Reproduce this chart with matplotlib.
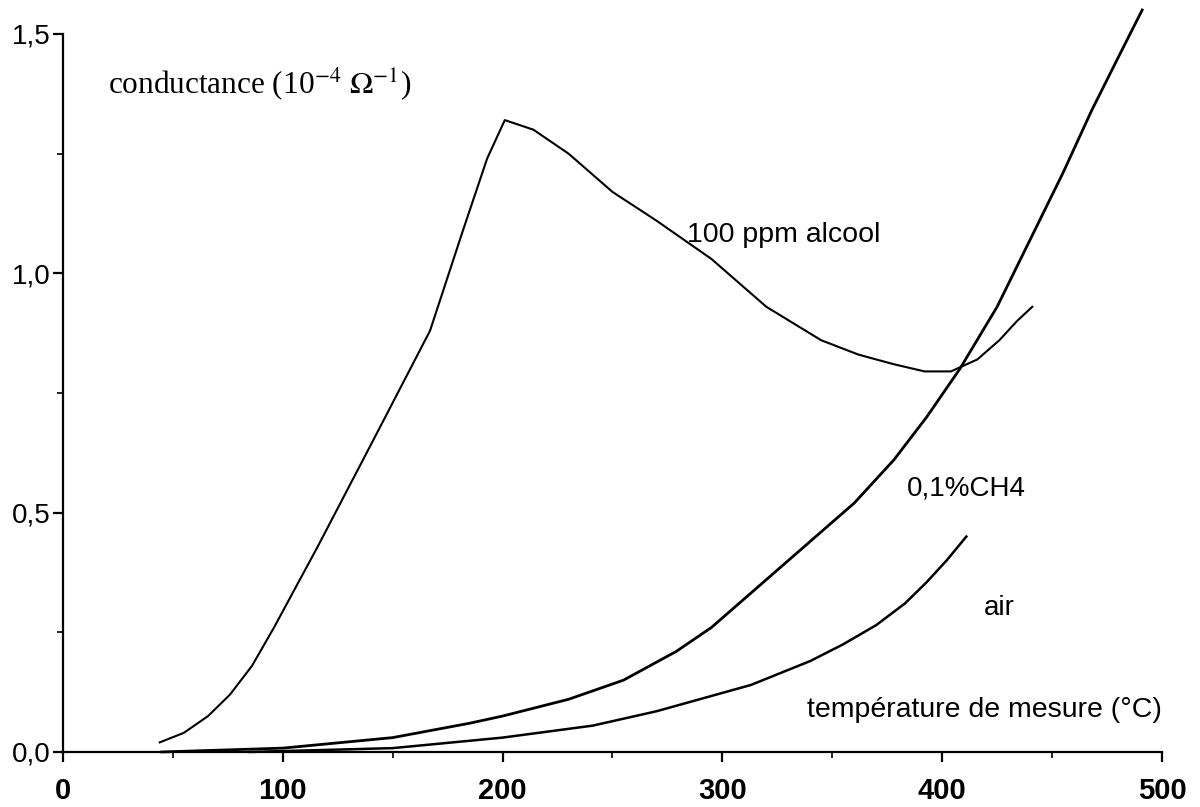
import matplotlib as mpl
import matplotlib.pyplot as plt
from matplotlib.ticker import MultipleLocator, FixedFormatter, FixedLocator

mpl.rcParams['mathtext.fontset'] = 'stix'

# temperature (°C) and conductance (1e-4 ohm^-1)
t_alcool = [44, 55, 66, 76, 86, 96, 116, 141, 167, 182, 193, 201, 214, 230, 250,
            270, 295, 320, 345, 362, 378, 392, 404, 416, 426, 434, 441]
g_alcool = [0.02, 0.04, 0.075, 0.12, 0.18, 0.26, 0.43, 0.65, 0.88, 1.09, 1.24, 1.32,
            1.30, 1.25, 1.17, 1.11, 1.03, 0.93, 0.86, 0.83, 0.81, 0.795, 0.795,
            0.82, 0.86, 0.90, 0.93]

t_ch4 = [45, 100, 150, 185, 200, 230, 255, 279, 295, 310, 325, 340, 360, 378,
         393, 408, 425, 440, 455, 468, 480, 491]
g_ch4 = [0.0, 0.008, 0.03, 0.06, 0.075, 0.11, 0.15, 0.21, 0.26, 0.32, 0.38, 0.44,
         0.52, 0.61, 0.70, 0.80, 0.93, 1.07, 1.21, 1.34, 1.45, 1.55]

t_air = [85, 150, 200, 241, 270, 313, 340, 355, 370, 383, 393, 402, 411]
g_air = [0.0, 0.008, 0.03, 0.055, 0.085, 0.14, 0.19, 0.225, 0.265, 0.31, 0.355,
         0.40, 0.45]

x_ticks = [0, 100, 200, 300, 400, 500]
x_labels = ['0', '100', '200', '300', '400', '500']
y_ticks = [0.0, 0.5, 1.0, 1.5]
y_labels = ['0,0', '0,5', '1,0', '1,5']

sans = ['Liberation Sans', 'DejaVu Sans']
serif = ['Liberation Serif', 'DejaVu Serif']

fig = plt.figure(figsize=(12, 8.07), dpi=100)
ax = fig.add_axes([0.0525, 0.0682, 0.9158, 0.9194])

ax.plot(t_alcool, g_alcool, color='k', lw=1.5, clip_on=False)
ax.plot(t_ch4, g_ch4, color='k', lw=2.0, clip_on=False)
ax.plot(t_air, g_air, color='k', lw=1.8, clip_on=False)

ax.set_xlim(0, 500)
ax.set_ylim(0, 1.55)
ax.spines['top'].set_visible(False)
ax.spines['right'].set_visible(False)
ax.spines['left'].set_bounds(0, 1.5)
for s in ('left', 'bottom'):
    ax.spines[s].set_linewidth(1.6)

ax.xaxis.set_major_locator(FixedLocator(x_ticks))
ax.xaxis.set_major_formatter(FixedFormatter(x_labels))
ax.xaxis.set_minor_locator(MultipleLocator(50))
ax.yaxis.set_major_locator(FixedLocator(y_ticks))
ax.yaxis.set_major_formatter(FixedFormatter(y_labels))
ax.yaxis.set_minor_locator(FixedLocator([0.25, 0.75, 1.25]))
ax.tick_params(which='major', direction='out', length=7, width=1.6, color='k')
ax.tick_params(which='minor', direction='out', length=4, width=1.2, color='k')
ax.tick_params(axis='x', pad=11)
ax.tick_params(axis='y', pad=2)
for lab in ax.get_xticklabels():
    lab.set_family(sans)
    lab.set_fontsize(21)
    lab.set_fontweight('bold')
for lab in ax.get_yticklabels():
    lab.set_family(sans)
    lab.set_fontsize(20)

ax.text(20.5, 1.375, r'conductance (10$^{\mathrm{-4}}$ $\Omega^{\mathrm{-1}}$)',
        family=serif, fontsize=22.5, va='baseline', ha='left')
ax.text(284, 1.08, '100 ppm alcool', family=sans, fontsize=20.5, va='center')
ax.text(384, 0.55, '0,1%CH4', family=sans, fontsize=20, va='center')
ax.text(419, 0.30, 'air', family=sans, fontsize=20, va='center')
ax.text(500, 0.073, 'température de mesure (°C)', family=sans, fontsize=20.5,
        va='baseline', ha='right')

fig.savefig('out.png', dpi=100)
